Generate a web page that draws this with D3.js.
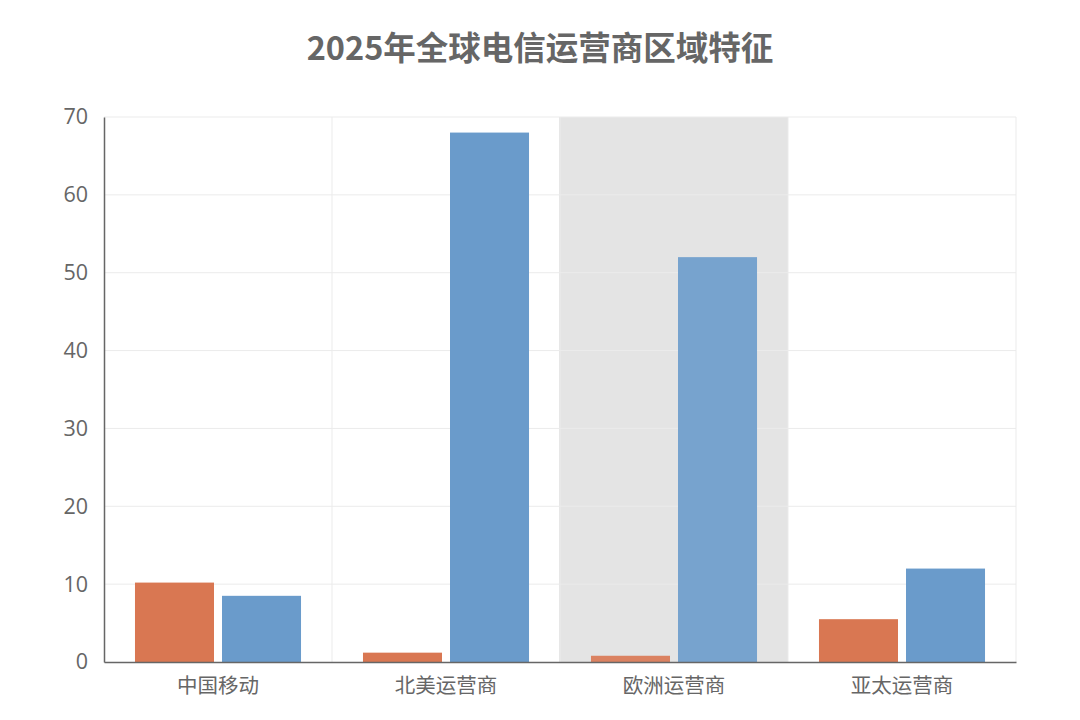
<!DOCTYPE html>
<html><head><meta charset="utf-8">
<script src="https://cdn.jsdelivr.net/npm/d3@7"></script>
<style>body{margin:0;background:#fff;font-family:"Noto Sans CJK SC","Noto Sans",sans-serif;}</style>
</head><body><svg id="c" width="1080" height="720"></svg>
<script>
const title = "2025年全球电信运营商区域特征";
const categories = ["中国移动","北美运营商","欧洲运营商","亚太运营商"];
const seriesA = [10.2, 1.2, 0.8, 5.5];
const seriesB = [8.5, 68, 52, 12];
const highlighted = ["欧洲运营商"];
const yTicks = [0,10,20,30,40,50,60,70];

const svg = d3.select("#c");
const m = {l:104, r:1016, t:117, b:662};
const x = d3.scaleBand().domain(categories).range([m.l, m.r]).paddingInner(0).paddingOuter(0);
const x1 = d3.scaleBand().domain(["A","B"]).range([0, x.bandwidth()]).paddingInner(0.092).paddingOuter(0.356);
const y = d3.scaleLinear().domain([0,70]).range([m.b, m.t]);

svg.append("text").attr("x",540).attr("y",60).attr("text-anchor","middle")
  .attr("font-size",32.5).attr("font-weight","bold").attr("fill","#666").text(title);

// highlight
svg.selectAll("rect.hl").data(highlighted).enter().append("rect")
  .attr("x", d=>x(d)-1).attr("width", x.bandwidth()+1)
  .attr("y", m.t).attr("height", m.b-m.t).attr("fill","#e4e4e4");

// grid
svg.append("g").selectAll("line").data(yTicks.slice(1)).enter().append("line")
  .attr("x1",m.l).attr("x2",m.r).attr("y1",d=>y(d)).attr("y2",d=>y(d))
  .attr("stroke","#ebebeb").attr("stroke-width",1);
svg.append("g").selectAll("line").data(categories.slice(1).concat(["end"])).enter().append("line")
  .attr("x1",d=>d==="end"?m.r:x(d)).attr("x2",d=>d==="end"?m.r:x(d))
  .attr("y1",m.t).attr("y2",m.b).attr("stroke","#ebebeb").attr("stroke-width",1);

// bars
const g = svg.append("g");
categories.forEach((c,i)=>{
  const op = highlighted.includes(c) ? 0.9 : 1;
  g.append("rect").attr("x", x(c)+x1("A")).attr("width", x1.bandwidth())
    .attr("y", y(seriesA[i])).attr("height", y(0)-y(seriesA[i])).attr("fill","#d97752").attr("opacity",op);
  g.append("rect").attr("x", x(c)+x1("B")).attr("width", x1.bandwidth())
    .attr("y", y(seriesB[i])).attr("height", y(0)-y(seriesB[i])).attr("fill","#6a9bcb").attr("opacity",op);
});

// axes
const ya = svg.append("g").attr("transform",`translate(${m.l},0)`)
  .call(d3.axisLeft(y).tickValues(yTicks).tickSize(0).tickPadding(16));
ya.select(".domain").attr("stroke","#666").attr("stroke-width",1.5);
ya.selectAll("text").attr("font-size",21.5).attr("fill","#666").attr("font-family","'Open Sans','Noto Sans',sans-serif");

const xa = svg.append("g").attr("transform",`translate(0,${m.b})`)
  .call(d3.axisBottom(x).tickSize(0).tickPadding(16));
xa.select(".domain").attr("stroke","#666").attr("stroke-width",1.5);
xa.selectAll("text").attr("font-size",20.5).attr("fill","#666").attr("font-family","'Noto Sans CJK SC',sans-serif");
</script></body></html>
